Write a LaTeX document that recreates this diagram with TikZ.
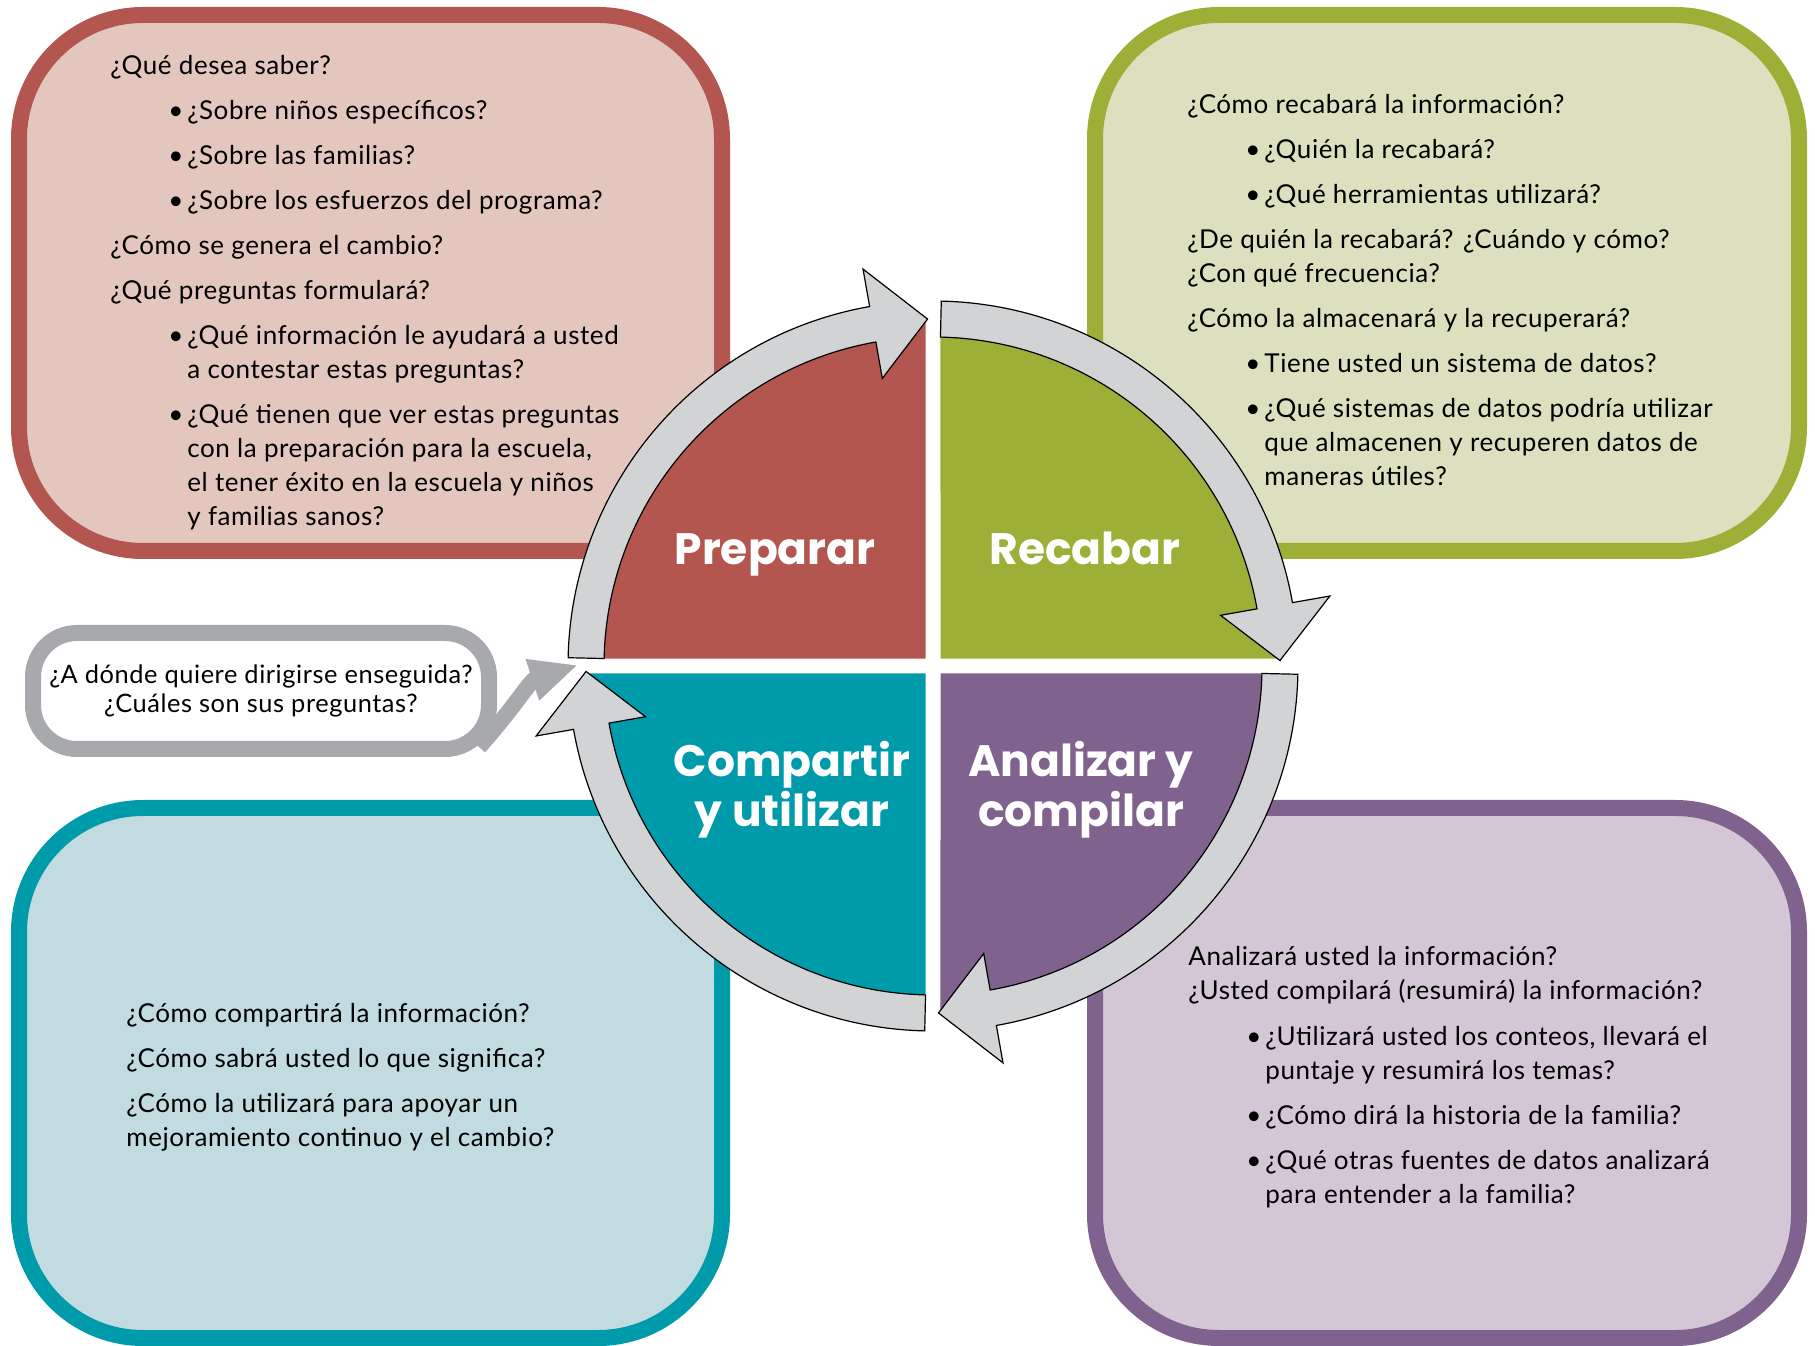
\documentclass[tikz,border=0pt]{standalone}
\usepackage{fontspec}
\setmainfont{Lato}[LetterSpace=2.2]
\newfontfamily\labelfont{Poppins}
\usetikzlibrary{arrows.meta, calc}

\definecolor{prepred}{HTML}{B35650}
\definecolor{preplight}{HTML}{E3C6BD}
\definecolor{recgreen}{HTML}{9DAF37}
\definecolor{reclight}{HTML}{DDE0BF}
\definecolor{compteal}{HTML}{009BAB}
\definecolor{complight}{HTML}{C1DBE0}
\definecolor{analpurple}{HTML}{7F628D}
\definecolor{anallight}{HTML}{D3C7D6}
\definecolor{cyclegray}{HTML}{D1D3D4}
\definecolor{nextgray}{HTML}{A7A9AC}

\newcommand{\bul}{\hspace*{29pt}\makebox[9.5pt][l]{\textbullet}}
\newcommand{\cont}{\hspace*{38.5pt}}

\begin{document}
\begin{tikzpicture}[
            x=0.5pt, y=0.5pt,
            qbox/.style={line width=8pt, rounded corners=62pt}, % question boxes
            txt/.style={anchor=north west, inner sep=0pt, align=left, font=\fontsize{13}{17}\selectfont}, % box texts
            lbl/.style={text=white, align=center, font=\labelfont\bfseries\fontsize{22}{25}\selectfont}, % step names
            cyc/.style={fill=cyclegray, draw=black, line width=0.6pt} % cycle arrows
            ]
        \useasboundingbox (0,0) rectangle (1815,1345);

        % question boxes
        \draw[qbox, draw=prepred, fill=preplight] (19,794) rectangle (722,1330);
        \draw[qbox, draw=recgreen, fill=reclight] (1095,794) rectangle (1799,1330);
        \draw[qbox, draw=compteal, fill=complight] (19,7) rectangle (722,537);
        \draw[qbox, draw=analpurple, fill=anallight] (1095,7) rectangle (1799,537);

        % quarters of the cycle
        \coordinate (c) at (933,679);
        \foreach \m/\col in {135/prepred, 45/recgreen, -45/analpurple, -135/compteal}
            \fill[\col] ($(c)+(\m:10.6)$) -- ($(c)+(\m+43.76:346)$)
                arc[start angle=\m+43.76, end angle=\m-43.76, radius=346] -- cycle;

        % arrows round the cycle
        \foreach \a in {178.7, 88.7, -1.3, -91.3}
            \draw[cyc] ($(c)+(\a:365)$) arc[start angle=\a, end angle=\a-78.7, radius=365]
                -- ($(c)+(\a-78.7:403)$) -- ($(c)+(\a-87.8:347)$) -- ($(c)+(\a-78.7:292)$)
                -- ($(c)+(\a-78.7:329)$) arc[start angle=\a-78.7, end angle=\a, radius=329] -- cycle;

        \node[lbl, anchor=base] (prep) at (775,780) {Preparar};
        \node[lbl, anchor=base] (reca) at (1085,780) {Recabar};
        \node[lbl] (comp) at (792,555) {Compartir\\y utilizar};
        \node[lbl] (anal) at (1081,555) {Analizar y\\compilar};

        \node[txt] (prepq) at (110,1290) {¿Qué desea saber?\\[5.5pt]
            \bul ¿Sobre niños específicos?\\[5.5pt]
            \bul ¿Sobre las familias?\\[5.5pt]
            \bul ¿Sobre los esfuerzos del programa?\\[5.5pt]
            ¿Cómo se genera el cambio?\\[5.5pt]
            ¿Qué preguntas formulará?\\[5.5pt]
            \bul ¿Qué información le ayudará a usted\\
            \cont a contestar estas preguntas?\\[5.5pt]
            \bul ¿Qué tienen que ver estas preguntas\\
            \cont con la preparación para la escuela,\\
            \cont el tener éxito en la escuela y niños\\
            \cont y familias sanos?};

        \node[txt] (recq) at (1187,1251) {¿Cómo recabará la información?\\[5.5pt]
            \bul ¿Quién la recabará?\\[5.5pt]
            \bul ¿Qué herramientas utilizará?\\[5.5pt]
            ¿De quién la recabará? ¿Cuándo y cómo?\\
            ¿Con qué frecuencia?\\[5.5pt]
            ¿Cómo la almacenará y la recuperará?\\[5.5pt]
            \bul Tiene usted un sistema de datos?\\[5.5pt]
            \bul ¿Qué sistemas de datos podría utilizar\\
            \cont que almacenen y recuperen datos de\\
            \cont maneras útiles?};

        \node[txt] (compq) at (126,342) {¿Cómo compartirá la información?\\[5.5pt]
            ¿Cómo sabrá usted lo que significa?\\[5.5pt]
            ¿Cómo la utilizará para apoyar un\\
            mejoramiento continuo y el cambio?};

        \node[txt] (analq) at (1188,399) {Analizará usted la información?\\
            ¿Usted compilará (resumirá) la información?\\[6pt]
            \bul ¿Utilizará usted los conteos, llevará el\\
            \cont puntaje y resumirá los temas?\\[5.5pt]
            \bul ¿Cómo dirá la historia de la familia?\\[5.5pt]
            \bul ¿Qué otras fuentes de datos analizará\\
            \cont para entender a la familia?};

        % where to go next
        \node[draw=nextgray, line width=8pt, fill=white, rounded corners=22pt,
              minimum width=228pt, minimum height=58pt, align=center,
              font=\fontsize{12.7}{14.5}\selectfont] (next) at (261,654)
              {¿A dónde quiere dirigirse enseguida?\\¿Cuáles son sus preguntas?};
        \coordinate (back) at (578,680);
        \draw[draw=nextgray, line width=8pt, -{Triangle[length=24pt, width=20pt]}]
            ([shift={(-9pt,5pt)}]next.south east) to[out=48, in=198] (back);

\end{tikzpicture}
\end{document}
